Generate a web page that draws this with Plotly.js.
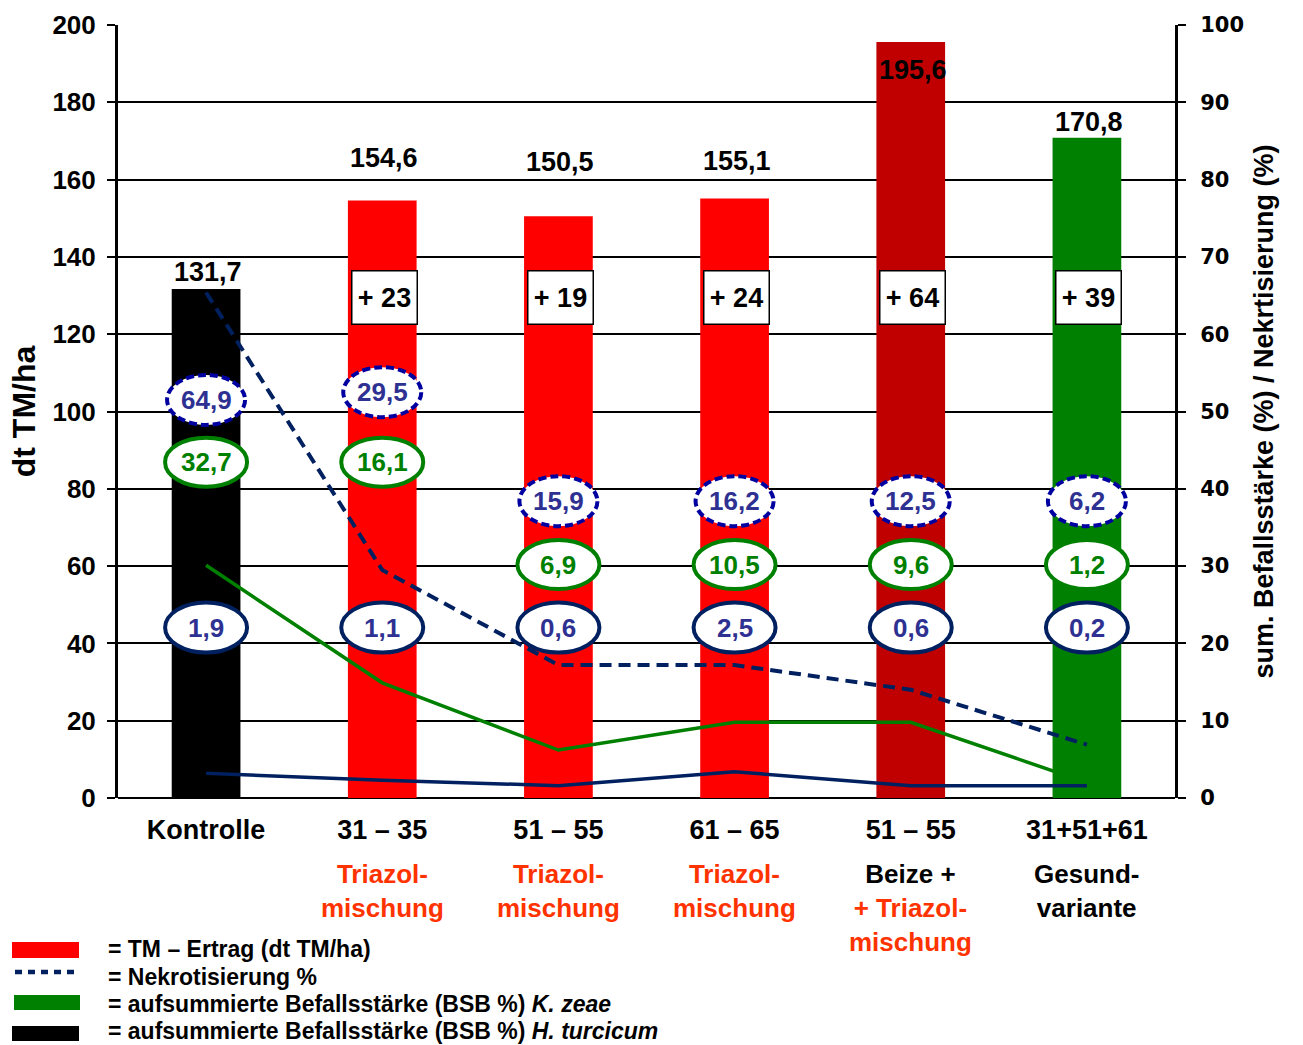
<!DOCTYPE html>
<html>
<head>
<meta charset="utf-8">
<script src="https://cdn.plot.ly/plotly-3.0.1.min.js"></script>
<style>html,body{margin:0;padding:0;background:#fff;}#chart{width:1303px;height:1045px;}</style>
</head>
<body>
<div id="chart"></div>
<script>
// ---- data ----
const categories = ["Kontrolle", "31 – 35", "51 – 55", "61 – 65", "51 – 55", "31+51+61"];
const subLabels = ["", "Triazol-<br>mischung", "Triazol-<br>mischung", "Triazol-<br>mischung",
  "Beize +<br><span style='color:#FF3300'>+ Triazol-</span><br><span style='color:#FF3300'>mischung</span>",
  "Gesund-<br>variante"];
const subLabelColors = ["#000000", "#FF3300", "#FF3300", "#FF3300", "#000000", "#000000"];
const ertrag = [131.7, 154.6, 150.5, 155.1, 195.6, 170.8];          // dt TM/ha
const ertragText = ["131,7", "154,6", "150,5", "155,1", "195,6", "170,8"];
const mehrertrag = [null, "+ 23", "+ 19", "+ 24", "+ 64", "+ 39"];
const barColors = ["#000000", "#FF0000", "#FF0000", "#FF0000", "#C00000", "#008000"];
// line series (right axis, %)
const nekroLine = [65.4, 29.5, 17.2, 17.2, 14.0, 6.9];
const zeaeLine = [30.1, 14.9, 6.2, 9.8, 9.8, 2.0];
const turcicumLine = [3.2, 2.3, 1.6, 3.4, 1.6, 1.6];
// values written in the ellipses
const nekroLabels = ["64,9", "29,5", "15,9", "16,2", "12,5", "6,2"];
const zeaeLabels = ["32,7", "16,1", "6,9", "10,5", "9,6", "1,2"];
const turcicumLabels = ["1,9", "1,1", "0,6", "2,5", "0,6", "0,2"];

// ---- layout helpers (positions only) ----
const idx = categories.map((_, i) => i);
const FONT = "Liberation Sans, Arial, sans-serif";
const L = 118, R = 1175, T = 25, B = 798;
const fx = px => (px - L) / (R - L);
const fy = py => (B - py) / (B - T);
const labelY = [136.1, 165.6, 164.6, 164.9, 188.4, 175.0];
const boxY = 129.5;
const nekroRowY = [103.0, 105.0, 76.8, 76.8, 76.8, 76.8];
const zeaeRowY = [86.9, 86.9, 60.4, 60.4, 60.4, 60.4];
const turcRowY = [44.1, 44.1, 44.1, 44.1, 44.1, 44.1];
const ellText = "#2E3192";

const traces = [
  {type: "bar", x: idx, y: ertrag, marker: {color: barColors, line: {width: 0}}, width: 0.39,
   hoverinfo: "y", showlegend: false, name: "TM – Ertrag"},
  {type: "scatter", mode: "lines", x: idx, y: zeaeLine, yaxis: "y2",
   line: {color: "#008000", width: 3.5}, showlegend: false, name: "K. zeae"},
  {type: "scatter", mode: "lines", x: idx, y: turcicumLine, yaxis: "y2",
   line: {color: "#002060", width: 3.5}, showlegend: false, name: "H. turcicum"},
  {type: "scatter", mode: "lines", x: idx, y: nekroLine, yaxis: "y2",
   line: {color: "#002060", width: 4, dash: "12px,7px"}, showlegend: false, name: "Nekrotisierung"}
];

const shapes = [];
const annotations = [];

function ellipse(i, yv, w, h, lineSpec) {
  shapes.push({type: "circle", xref: "x", yref: "y", xsizemode: "pixel", ysizemode: "pixel",
    xanchor: i, yanchor: yv, x0: -w / 2, x1: w / 2, y0: -h / 2, y1: h / 2,
    fillcolor: "#FFFFFF", line: lineSpec, layer: "above"});
}
idx.forEach(i => {
  ellipse(i, nekroRowY[i], 78, 50, {color: "#0000A0", width: 4, dash: "8px,4px"});
  ellipse(i, zeaeRowY[i], 82, 49, {color: "#008000", width: 4});
  ellipse(i, turcRowY[i], 82, 50, {color: "#002060", width: 4});
  annotations.push({x: i, y: nekroRowY[i], xref: "x", yref: "y", text: nekroLabels[i], showarrow: false,
    font: {family: FONT, size: 26, color: ellText, weight: "bold"}});
  annotations.push({x: i, y: zeaeRowY[i], xref: "x", yref: "y", text: zeaeLabels[i], showarrow: false,
    font: {family: FONT, size: 26, color: "#008000", weight: "bold"}});
  annotations.push({x: i, y: turcRowY[i], xref: "x", yref: "y", text: turcicumLabels[i], showarrow: false,
    font: {family: FONT, size: 26, color: ellText, weight: "bold"}});
  annotations.push({x: i, y: labelY[i], xref: "x", yref: "y", xshift: 2, text: ertragText[i], showarrow: false,
    font: {family: FONT, size: 27, color: "#000000", weight: "bold"}});
  if (mehrertrag[i]) {
    annotations.push({x: i, y: boxY, xref: "x", yref: "y", xshift: 2, text: mehrertrag[i], showarrow: false,
      bgcolor: "#FFFFFF", bordercolor: "#000000", borderwidth: 1.5, borderpad: 2, width: 60, height: 48,
      font: {family: FONT, size: 27, color: "#000000", weight: "bold"}});
  }
  if (subLabels[i]) {
    annotations.push({x: i, y: fy(857), xref: "x", yref: "paper", yanchor: "top", text: subLabels[i],
      showarrow: false, font: {family: FONT, size: 26, color: subLabelColors[i], weight: "bold"}});
  }
});

// ---- custom legend ----
shapes.push({type: "rect", xref: "paper", yref: "paper", x0: fx(12), x1: fx(79), y0: fy(958), y1: fy(942),
  fillcolor: "#FF0000", line: {width: 0}});
shapes.push({type: "line", xref: "paper", yref: "paper", x0: fx(15), x1: fx(80), y0: fy(972), y1: fy(972),
  line: {color: "#002060", width: 4.5, dash: "7px,6px"}});
shapes.push({type: "rect", xref: "paper", yref: "paper", x0: fx(14), x1: fx(80), y0: fy(1010), y1: fy(995),
  fillcolor: "#008000", line: {width: 0}});
shapes.push({type: "rect", xref: "paper", yref: "paper", x0: fx(12), x1: fx(79), y0: fy(1041), y1: fy(1026),
  fillcolor: "#000000", line: {width: 0}});
const legendTexts = ["= TM – Ertrag (dt TM/ha)", "= Nekrotisierung %",
  "= aufsummierte Befallsstärke (BSB %) <i>K. zeae</i>",
  "= aufsummierte Befallsstärke (BSB %) <i>H. turcicum</i>"];
const legendY = [949, 977, 1004, 1031];
legendTexts.forEach((t, k) => annotations.push({xref: "paper", yref: "paper", x: fx(106), y: fy(legendY[k]),
  xanchor: "left", yanchor: "middle", text: t, showarrow: false,
  font: {family: FONT, size: 23, color: "#000000", weight: "bold"}}));

const layout = {
  width: 1303, height: 1045,
  margin: {l: L, r: 1303 - R, t: T, b: 1045 - B, pad: 0},
  paper_bgcolor: "#FFFFFF", plot_bgcolor: "#FFFFFF",
  font: {family: FONT, color: "#000000"},
  showlegend: false,
  xaxis: {range: [-0.5, 5.5], tickmode: "array", tickvals: idx, ticktext: categories,
    showgrid: false, zeroline: false, showline: false, ticks: "", ticklabelstandoff: 13,
    tickfont: {family: FONT, size: 27, color: "#000000", weight: "bold"}, fixedrange: true},
  yaxis: {range: [0, 200], dtick: 20, showgrid: true, gridcolor: "#000000", gridwidth: 2,
    zeroline: true, zerolinecolor: "#000000", zerolinewidth: 2,
    showline: true, linecolor: "#000000", linewidth: 3, ticks: "outside", ticklen: 8, tickwidth: 2,
    tickcolor: "#000000", ticklabelstandoff: 6,
    tickfont: {family: FONT, size: 26, color: "#000000", weight: "bold"},
    title: {text: "dt TM/ha", standoff: 8, font: {family: FONT, size: 32, color: "#000000", weight: "bold"}}},
  yaxis2: {range: [0, 100], dtick: 10, overlaying: "y", side: "right", showgrid: false, zeroline: false,
    showline: true, linecolor: "#000000", linewidth: 3, ticks: "outside", ticklen: 8, tickwidth: 2,
    tickcolor: "#000000", ticklabelstandoff: 10,
    tickfont: {family: "DejaVu Sans, sans-serif", size: 21, color: "#000000", weight: "bold"},
    title: {text: "sum. Befallsstärke (%) / Nekrtisierung (%)", standoff: 12,
      font: {family: FONT, size: 27, color: "#000000", weight: "bold"}}},
  shapes: shapes,
  annotations: annotations
};

Plotly.newPlot("chart", traces, layout, {displayModeBar: false, staticPlot: true});
</script>
</body>
</html>
